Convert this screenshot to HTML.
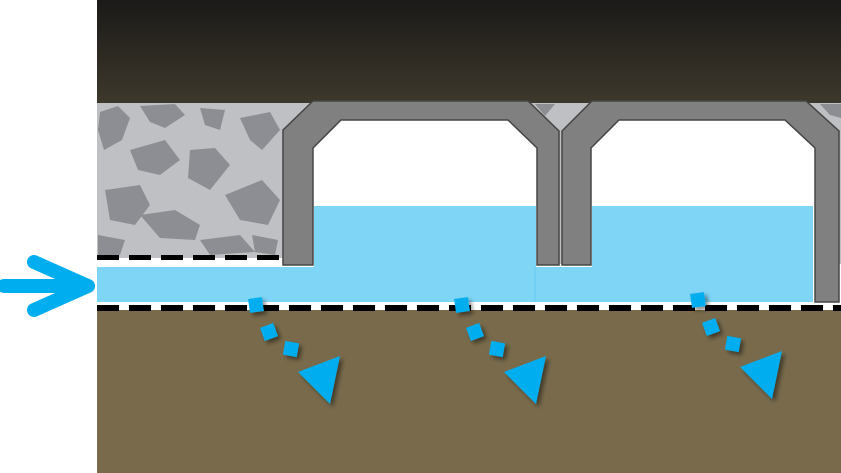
<!DOCTYPE html>
<html><head><meta charset="utf-8"><style>html,body{margin:0;padding:0;background:#fff}svg{display:block}</style></head>
<body>
<svg width="841" height="473" viewBox="0 0 841 473" xmlns="http://www.w3.org/2000/svg">
<defs>
<linearGradient id="dk" x1="0" y1="0" x2="0" y2="1"><stop offset="0" stop-color="#1b1a18"/><stop offset="1" stop-color="#3e382c"/></linearGradient>
<filter id="sh" x="-30%" y="-30%" width="160%" height="160%"><feDropShadow dx="3" dy="3" stdDeviation="2" flood-color="#000" flood-opacity="0.45"/></filter>
</defs>
<rect x="97" y="0" width="744" height="104" fill="url(#dk)"/>
<rect x="97" y="103" width="744" height="161" fill="#bfc0c4"/>
<g fill="#8d8e93">
<path d="M100,112 L118,106 L130,118 L122,140 L104,150 L98,130 Z"/>
<path d="M140,106 L175,104 L185,115 L165,128 L150,122 Z"/>
<path d="M200,108 L225,110 L220,130 L205,125 Z"/>
<path d="M240,118 L270,112 L280,130 L262,150 L250,140 Z"/>
<path d="M130,150 L165,140 L180,160 L160,175 L138,170 Z"/>
<path d="M190,150 L215,148 L230,165 L210,190 L188,178 Z"/>
<path d="M225,195 L262,180 L280,200 L268,225 L240,220 Z"/>
<path d="M105,190 L140,185 L150,205 L135,225 L110,220 Z"/>
<path d="M140,215 L175,210 L200,225 L195,240 L160,238 Z"/>
<path d="M200,240 L240,235 L255,252 L210,255 Z"/>
<path d="M98,235 L125,240 L120,255 L98,255 Z"/>
<path d="M252,235 L278,240 L275,255 L255,252 Z"/>
<path d="M535,104 L555,104 L545,116 Z"/>
<path d="M820,104 L841,104 L841,118 L830,115 Z"/>
</g>
<rect x="97" y="310" width="744" height="163" fill="#786a4b"/>
<rect x="97" y="258" width="190" height="10" fill="#fff"/>
<line x1="97" y1="257.5" x2="287" y2="257.5" stroke="#000" stroke-width="5" stroke-dasharray="22 10"/>
<path d="M313,268 L313,148 L341,120 L508,120 L537,148 L537,268 Z" fill="#fff"/>
<path d="M591,268 L591,148 L619,120 L785,120 L815,148 L815,268 Z" fill="#fff"/>
<rect x="97" y="265" width="718" height="40" fill="#fff"/>
<rect x="97" y="267" width="716" height="35" fill="#7fd5f6"/>
<rect x="314" y="206" width="222" height="62" fill="#7fd5f6"/>
<rect x="592" y="206" width="221" height="62" fill="#7fd5f6"/>
<line x1="535" y1="267" x2="535" y2="302" stroke="#5cc4ee" stroke-width="0.7"/>
<rect x="97" y="302" width="744" height="5" fill="#fff"/>
<line x1="97" y1="308" x2="841" y2="308" stroke="#000" stroke-width="6" stroke-dasharray="22 10"/>
<path d="M283,265 L283,130 L313,101 L528,101 L559,131 L559,265 L537,265 L537,148 L508,120 L341,120 L313,148 L313,265 Z" fill="#808080" stroke="#454545" stroke-width="1.5"/>
<path d="M562,265 L562,131 L592,101 L806,101 L839,131 L839,302 L815,302 L815,148 L785,120 L619,120 L591,148 L591,265 Z" fill="#808080" stroke="#454545" stroke-width="1.5"/>
<g stroke="#00aeef" stroke-width="14" stroke-linecap="round" stroke-linejoin="round" fill="none">
<line x1="4" y1="286" x2="82" y2="286"/><polyline points="34,262 88,286 34,310"/>
</g>
<g fill="#00aeef" filter="url(#sh)">
<g>
<rect x="249" y="298" width="14" height="14" transform="rotate(-8 256 305)"/>
<rect x="262" y="325" width="14" height="14" transform="rotate(-20 269 332)"/>
<rect x="284" y="342" width="14" height="14" transform="rotate(10 291 349)"/>
<polygon points="298,372 340,356 330,404"/>
</g>
<g transform="translate(206,0)">
<rect x="249" y="298" width="14" height="14" transform="rotate(-8 256 305)"/>
<rect x="262" y="325" width="14" height="14" transform="rotate(-20 269 332)"/>
<rect x="284" y="342" width="14" height="14" transform="rotate(10 291 349)"/>
<polygon points="298,372 340,356 330,404"/>
</g>
<g transform="translate(442,-5)">
<rect x="249" y="298" width="14" height="14" transform="rotate(-8 256 305)"/>
<rect x="262" y="325" width="14" height="14" transform="rotate(-20 269 332)"/>
<rect x="284" y="342" width="14" height="14" transform="rotate(10 291 349)"/>
<polygon points="298,372 340,356 330,404"/>
</g>
</g>
</svg>
</body></html>
